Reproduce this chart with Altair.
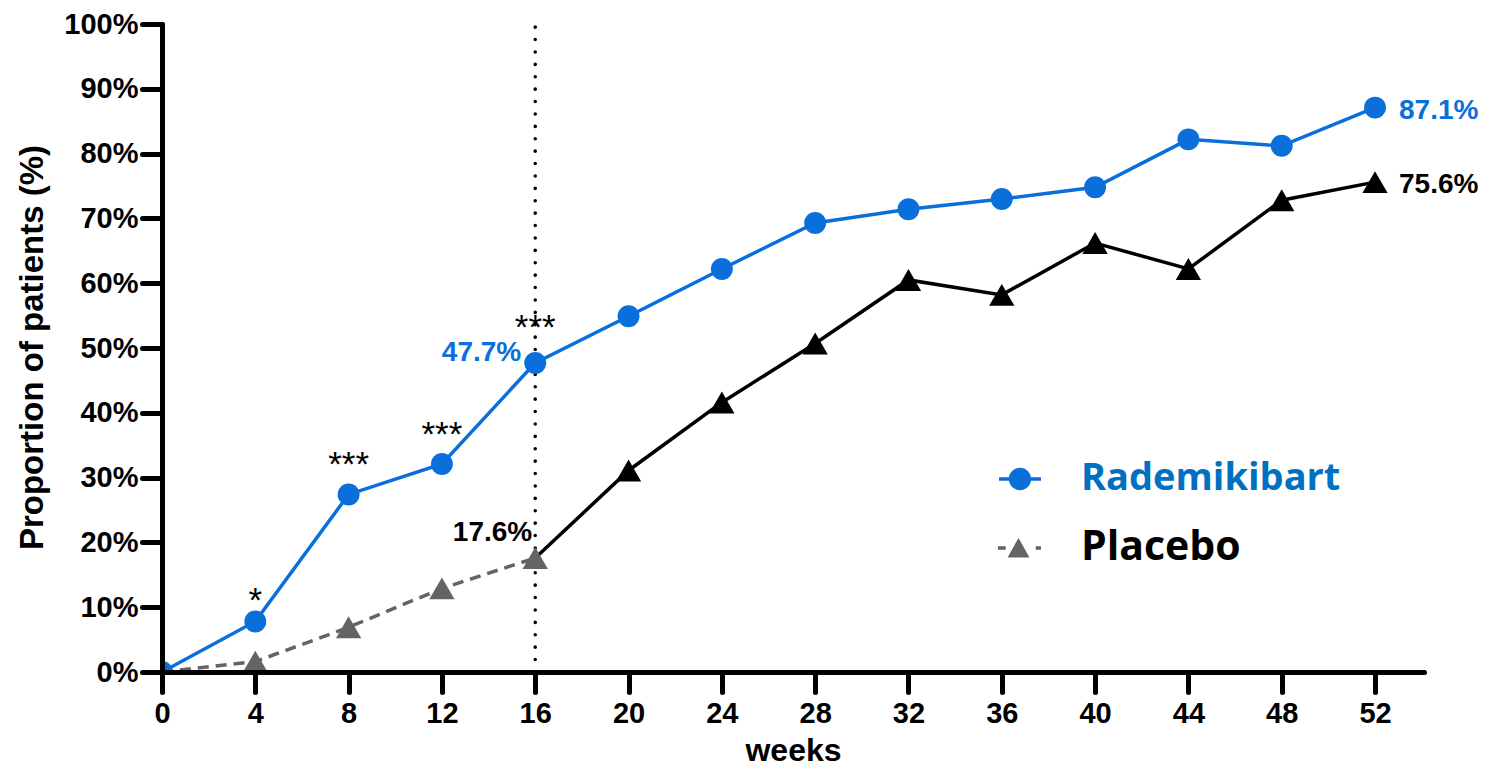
import altair as alt
import pandas as pd

# ---------------- data ----------------
weeks = [0, 4, 8, 12, 16, 20, 24, 28, 32, 36, 40, 44, 48, 52]
rademikibart = [0, 7.8, 27.4, 32.1, 47.7, 54.9, 62.2, 69.3, 71.4, 73.0, 74.8, 82.2, 81.2, 87.1]
placebo = [0, 1.6, 6.9, 12.9, 17.6, 31.1, 41.6, 50.7, 60.5, 58.2, 66.2, 62.2, 72.8, 75.6]
x_ticks = list(range(0, 53, 4))
y_ticks = list(range(0, 101, 10))
star_weeks = [4, 8, 12, 16]
star_labels = ["*", "***", "***", "***"]
series_names = ["Rademikibart", "Placebo"]
cutoff_week = 16

BLUE = "#0A6FDB"
BLUE_TXT = "#0070C0"
GRAY = "#646464"
FONT = "Liberation Sans"

rad = pd.DataFrame({"week": weeks, "value": rademikibart})
pla = pd.DataFrame({"week": weeks, "value": placebo})
pla_early = pla[pla.week <= cutoff_week]
pla_late = pla[pla.week >= cutoff_week]
pla_tri_gray = pla[pla.week <= cutoff_week]
pla_tri_black = pla[pla.week > cutoff_week]

xs = alt.Scale(domain=[0, 54.1], nice=False, zero=False)
ys = alt.Scale(domain=[0, 100], nice=False)

x_axis = alt.Axis(
    values=x_ticks, grid=False, title="weeks",
    labelFont=FONT, labelFontSize=29, labelFontWeight="bold", labelColor="black",
    labelPadding=7, labelFlush=False,
    tickSize=20, tickWidth=5, tickColor="black", tickCap="round",
    domainWidth=5, domainColor="black", domainCap="round",
    titleFont=FONT, titleFontSize=32, titleFontWeight="bold", titleColor="black",
    titleY=88, titleBaseline="alphabetic", zindex=1,
)
y_axis = alt.Axis(
    values=y_ticks, grid=False, title="Proportion of patients (%)",
    labelExpr="datum.value + '%'",
    labelFont=FONT, labelFontSize=29, labelFontWeight="bold", labelColor="black",
    labelPadding=4,
    tickSize=20, tickWidth=5, tickColor="black", tickCap="round",
    domainWidth=5, domainColor="black", domainCap="round",
    titleFont=FONT, titleFontSize=33, titleFontWeight="bold", titleColor="black",
    titleX=-120, titleY=323, titleAngle=270, titleAlign="center",
    titleBaseline="alphabetic", zindex=1,
)

X = alt.X("week:Q", scale=xs, axis=x_axis)
Y = alt.Y("value:Q", scale=ys, axis=y_axis)

# dotted vertical reference line at week 16
ref = pd.DataFrame({"week": [cutoff_week], "value": [0], "top": [100]})
rule = alt.Chart(ref).mark_rule(
    color="black", strokeWidth=3.5, strokeDash=[0.1, 12.3], strokeCap="round"
).encode(x=X, y=Y, y2="top:Q")

pla_dash = alt.Chart(pla_early).mark_line(
    color=GRAY, strokeWidth=3.5, strokeDash=[11, 7]
).encode(x=X, y=Y)
pla_solid = alt.Chart(pla_late).mark_line(
    color="black", strokeWidth=3.5
).encode(x=X, y=Y)
tri_gray = alt.Chart(pla_tri_gray).mark_point(
    shape="triangle-up", filled=True, size=640, color=GRAY, opacity=1, clip=True
).encode(x=X, y=Y)
tri_black = alt.Chart(pla_tri_black).mark_point(
    shape="triangle-up", filled=True, size=640, color="black", opacity=1, clip=True
).encode(x=X, y=Y)

rad_line = alt.Chart(rad).mark_line(color=BLUE, strokeWidth=3.5).encode(x=X, y=Y)
rad_pts = alt.Chart(rad).mark_point(
    shape="circle", filled=True, size=480, color=BLUE, opacity=1, clip=True
).encode(x=X, y=Y)

# value labels
i16 = weeks.index(cutoff_week)
lab_rad16 = pd.DataFrame({"week": [weeks[i16]], "value": [rademikibart[i16]],
                          "label": [f"{rademikibart[i16]}%"]})
lab_pla16 = pd.DataFrame({"week": [weeks[i16]], "value": [placebo[i16]],
                          "label": [f"{placebo[i16]}%"]})
lab_rad52 = pd.DataFrame({"week": [weeks[-1]], "value": [rademikibart[-1]],
                          "label": [f"{rademikibart[-1]}%"]})
lab_pla52 = pd.DataFrame({"week": [weeks[-1]], "value": [placebo[-1]],
                          "label": [f"{placebo[-1]}%"]})

def vlabel(df, color, align, dx, dy):
    return alt.Chart(df).mark_text(
        font=FONT, fontSize=28, fontWeight="bold", color=color,
        align=align, baseline="alphabetic", dx=dx, dy=dy
    ).encode(x=X, y=Y, text="label:N")

t1 = vlabel(lab_rad16, BLUE, "right", -14, -2)
t2 = vlabel(lab_pla16, "black", "right", -3, -17)
t3 = vlabel(lab_rad52, BLUE, "left", 24, 11)
t4 = vlabel(lab_pla52, "black", "left", 24, 11)

stars = pd.DataFrame({
    "week": star_weeks,
    "value": [rademikibart[weeks.index(w)] for w in star_weeks],
    "label": star_labels,
})

def star_layer(df, dy):
    return alt.Chart(df).mark_text(
        font=FONT, fontSize=35, color="black", align="center",
        baseline="alphabetic", dy=dy
    ).encode(x=X, y=Y, text="label:N")

s1 = star_layer(stars[stars.week == 4], -9)
s2 = star_layer(stars[(stars.week == 8) | (stars.week == 12)], -18)
s3 = star_layer(stars[stars.week == 16], -24)

# legend: two real Vega-Lite legends with custom line+marker symbols
path_blue = ("M-1,-0.085H-0.5V0.085H-1Z M0.5,-0.085H1V0.085H0.5Z "
             "M0.53,0A0.53,0.53,0,1,1,-0.53,0A0.53,0.53,0,1,1,0.53,0Z")
path_gray = ("M-1.05,-0.085H-0.68V0.085H-1.05Z M0.75,-0.085H1V0.085H0.75Z "
             "M-0.07,-0.48L0.45,0.45L-0.59,0.45Z")

common_leg = dict(
    title=None, orient="none", legendX=837,
    symbolSize=1764, symbolOpacity=1, symbolStrokeWidth=0,
    labelFont="Open Sans", labelFontWeight="bold",
    labelOffset=40, labelLimit=400,
)
leg1_df = pd.DataFrame({"s1": [series_names[0]]})
leg2_df = pd.DataFrame({"s2": [series_names[1]]})
leg_layer1 = alt.Chart(leg1_df).transform_filter("false").mark_point(
    filled=True, opacity=1, color=BLUE
).encode(
    shape=alt.Shape("s1:N", scale=alt.Scale(domain=[series_names[0]], range=[path_blue]),
                    legend=alt.Legend(legendY=434, labelColor=BLUE_TXT, labelFontSize=38,
                                      symbolFillColor=BLUE, **common_leg)),
)
leg_layer2 = alt.Chart(leg2_df).transform_filter("false").mark_point(
    filled=True, opacity=1
).encode(
    color=alt.Color("s2:N", scale=alt.Scale(domain=[series_names[1]], range=[GRAY]),
                    legend=alt.Legend(legendY=503, labelColor="black", labelFontSize=41,
                                      symbolType=path_gray, **common_leg)),
)

chart = alt.layer(
    rule, pla_dash, pla_solid, tri_gray, tri_black, rad_line, rad_pts,
    t1, t2, t3, t4, s1, s2, s3, leg_layer1, leg_layer2
).properties(
    width=1262, height=648,
    autosize=alt.AutoSizeParams(type="none"),
    padding={"left": 154, "top": 16, "right": 59, "bottom": 96},
    background="white",
).configure_view(stroke=None)

chart.save("out.html", embed_options={"renderer": "svg", "actions": False})
